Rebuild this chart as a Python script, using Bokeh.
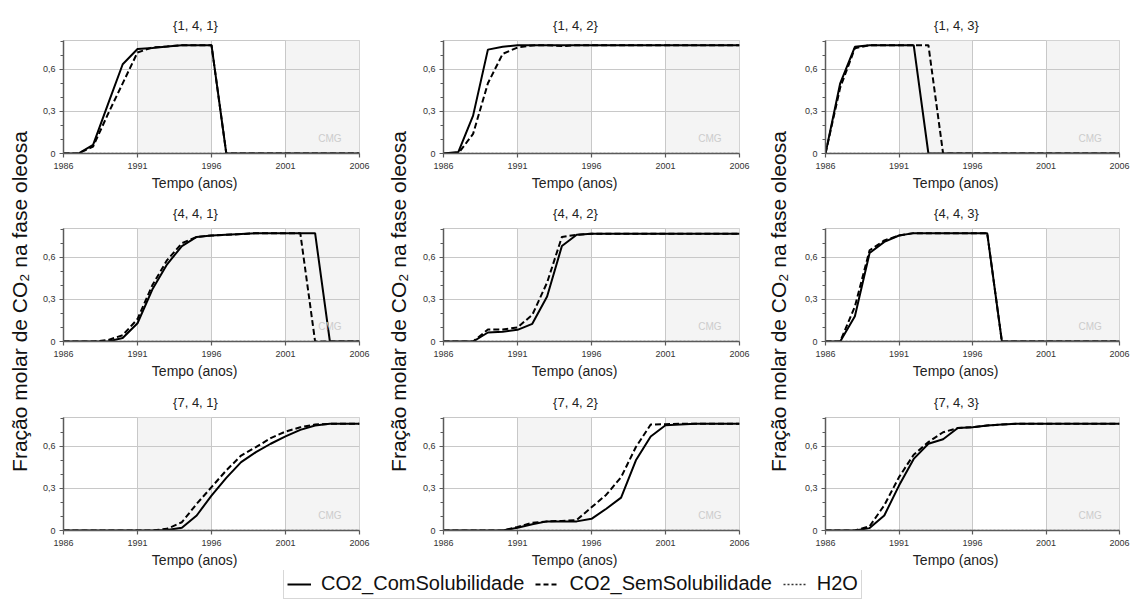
import math
from bokeh.plotting import figure
from bokeh.layouts import row, column
from bokeh.models import (FixedTicker, CustomJSTickFormatter, BoxAnnotation, Label,
                          Legend, LegendItem, Range1d, Title)
from bokeh.embed import file_html
from bokeh.resources import INLINE

# ---------------- data ----------------
years = [1986, 1987, 1988, 1989, 1990, 1991, 1992, 1993, 1994, 1995, 1996,
         1997, 1998, 1999, 2000, 2001, 2002, 2003, 2004, 2005, 2006]

x_ticks = [1986, 1991, 1996, 2001, 2006]
y_ticks = [0, 0.3, 0.6]
y_minor = [0.1, 0.2, 0.4, 0.5, 0.7, 0.8]

panel_titles = ["{1, 4, 1}", "{1, 4, 2}", "{1, 4, 3}",
                "{4, 4, 1}", "{4, 4, 2}", "{4, 4, 3}",
                "{7, 4, 1}", "{7, 4, 2}", "{7, 4, 3}"]

series_names = ["CO2_ComSolubilidade", "CO2_SemSolubilidade", "H2O"]
y_label = "Fração molar de CO₂ na fase oleosa"
x_label = "Tempo (anos)"

com_141 = [0, 0, 0.062, 0.35, 0.636, 0.744, 0.752, 0.762, 0.772, 0.772, 0.772,
           0, 0, 0, 0, 0, 0, 0, 0, 0, 0]
sem_141 = [0, 0, 0.05, 0.28, 0.50, 0.72, 0.755, 0.762, 0.772, 0.772, 0.772,
           0, 0, 0, 0, 0, 0, 0, 0, 0, 0]

com_142 = [0, 0.01, 0.27, 0.74, 0.76, 0.772, 0.772, 0.772, 0.772, 0.772, 0.772,
           0.772, 0.772, 0.772, 0.772, 0.772, 0.772, 0.772, 0.772, 0.772, 0.772]
sem_142 = [0, 0, 0.14, 0.50, 0.71, 0.755, 0.77, 0.772, 0.765, 0.772, 0.772,
           0.772, 0.772, 0.772, 0.772, 0.772, 0.772, 0.772, 0.772, 0.772, 0.772]

com_143 = [0, 0.50, 0.76, 0.772, 0.772, 0.772, 0.772, 0, 0, 0, 0,
           0, 0, 0, 0, 0, 0, 0, 0, 0, 0]
sem_143 = [0, 0.47, 0.75, 0.772, 0.772, 0.772, 0.772, 0.772, 0, 0, 0,
           0, 0, 0, 0, 0, 0, 0, 0, 0, 0]

com_441 = [0, 0, 0, 0, 0.025, 0.13, 0.37, 0.55, 0.68, 0.745, 0.755,
           0.76, 0.765, 0.772, 0.772, 0.772, 0.772, 0.772, 0, 0, 0]
sem_441 = [0, 0, 0, 0.01, 0.045, 0.16, 0.40, 0.58, 0.70, 0.745, 0.755,
           0.76, 0.765, 0.772, 0.772, 0.772, 0.772, 0, 0, 0, 0]

com_442 = [0, 0, 0, 0.064, 0.07, 0.083, 0.126, 0.32, 0.68, 0.76, 0.767,
           0.767, 0.767, 0.767, 0.767, 0.767, 0.767, 0.767, 0.767, 0.767, 0.767]
sem_442 = [0, 0, 0, 0.085, 0.085, 0.10, 0.19, 0.42, 0.745, 0.76, 0.767,
           0.767, 0.767, 0.767, 0.767, 0.767, 0.767, 0.767, 0.767, 0.767, 0.767]

com_443 = [0, 0, 0.18, 0.63, 0.71, 0.755, 0.772, 0.772, 0.772, 0.772, 0.772,
           0.772, 0, 0, 0, 0, 0, 0, 0, 0, 0]
sem_443 = [0, 0, 0.25, 0.65, 0.72, 0.755, 0.772, 0.772, 0.772, 0.772, 0.772,
           0.772, 0, 0, 0, 0, 0, 0, 0, 0, 0]

com_741 = [0, 0, 0, 0, 0, 0, 0, 0.003, 0.02, 0.107, 0.249,
           0.375, 0.487, 0.558, 0.618, 0.67, 0.717, 0.748, 0.76, 0.76, 0.76]
sem_741 = [0, 0, 0, 0, 0, 0, 0, 0.012, 0.059, 0.19, 0.309,
           0.428, 0.534, 0.594, 0.658, 0.705, 0.735, 0.755, 0.76, 0.76, 0.76]

com_742 = [0, 0, 0, 0, 0, 0.02, 0.045, 0.065, 0.065, 0.065, 0.083,
           0.155, 0.234, 0.50, 0.67, 0.75, 0.755, 0.76, 0.76, 0.76, 0.76]
sem_742 = [0, 0, 0, 0, 0, 0.025, 0.055, 0.065, 0.068, 0.075, 0.165,
           0.255, 0.38, 0.595, 0.755, 0.757, 0.76, 0.76, 0.76, 0.76, 0.76]

com_743 = [0, 0, 0, 0.017, 0.107, 0.32, 0.51, 0.618, 0.65, 0.73, 0.736,
           0.748, 0.755, 0.76, 0.76, 0.76, 0.76, 0.76, 0.76, 0.76, 0.76]
sem_743 = [0, 0, 0, 0.03, 0.18, 0.38, 0.54, 0.63, 0.70, 0.73, 0.736,
           0.748, 0.755, 0.76, 0.76, 0.76, 0.76, 0.76, 0.76, 0.76, 0.76]

h2o = [0, 0, 0, 0, 0, 0, 0, 0, 0, 0, 0,
       0, 0, 0, 0, 0, 0, 0, 0, 0, 0]

com_series = [com_141, com_142, com_143, com_441, com_442, com_443, com_741, com_742, com_743]
sem_series = [sem_141, sem_142, sem_143, sem_441, sem_442, sem_443, sem_741, sem_742, sem_743]

# ---------------- style ----------------
FONT = "Liberation Sans"
AXIS_C = "#5a5a5a"
GRID_C = "#c8c8c8"
TEXT_C = "#222222"
BAND_C = "#f4f4f4"
H2O_C = "#7a7a7a"

FRAME_H = 113
col_left = [28, 28, 30]
col_frame_w = [296, 296, 294]
col_right = [21, 21, 17]
row_top = [40, 33, 34]
row_bottom = [42, 42, 40]
Y_END = 0.805
TITLE_PX = 13
XLAB_PX = 14
TEXT_SHIFT = 16      # texts centred this many px left of the frame centre


def make_panel(idx):
    r, c = divmod(idx, 3)
    fw = col_frame_w[c]
    p = figure(frame_width=fw, frame_height=FRAME_H,
               min_border_left=col_left[c], min_border_right=col_right[c],
               min_border_top=row_top[r], min_border_bottom=row_bottom[r],
               x_range=Range1d(x_ticks[0], x_ticks[-1]), y_range=Range1d(0, Y_END),
               output_backend="svg", toolbar_location=None)
    p.background_fill_color = "white"
    p.border_fill_color = "white"
    p.outline_line_color = GRID_C

    for k in (1, 3):
        p.add_layout(BoxAnnotation(left=x_ticks[k], right=x_ticks[k + 1],
                                   fill_color=BAND_C, fill_alpha=1.0,
                                   line_color=None, level="image"))

    centre = fw / 2 - TEXT_SHIFT
    title_w = 3.448 * TITLE_PX
    p.add_layout(Title(text=panel_titles[idx], align="left",
                       offset=centre - title_w / 2, standoff=16,
                       text_font=FONT, text_font_size=f"{TITLE_PX}px",
                       text_font_style="normal", text_color=TEXT_C), "above")

    xlab_w = 6.235 * XLAB_PX
    p.add_layout(Title(text=x_label, align="left",
                       offset=centre - xlab_w / 2, standoff=2,
                       text_font=FONT, text_font_size=f"{XLAB_PX}px",
                       text_font_style="normal", text_color=TEXT_C), "below")

    p.xaxis.ticker = FixedTicker(ticks=x_ticks, minor_ticks=[])
    p.yaxis.ticker = FixedTicker(ticks=y_ticks, minor_ticks=y_minor)
    p.yaxis.formatter = CustomJSTickFormatter(
        code="return tick === 0 ? '0' : tick.toFixed(1).replace('.', ',');")

    for ax in (p.xaxis, p.yaxis):
        ax.axis_line_color = AXIS_C
        ax.axis_line_width = 1.5
        ax.major_tick_line_color = AXIS_C
        ax.major_tick_line_width = 1.2
        ax.minor_tick_line_color = AXIS_C
        ax.major_tick_in = 0
        ax.major_tick_out = 4
        ax.minor_tick_in = 0
        ax.minor_tick_out = 3
        ax.major_label_text_font = FONT
        ax.major_label_text_font_size = "9px"
        ax.major_label_text_color = "#333333"
    p.xaxis.major_label_standoff = 5
    p.yaxis.major_label_standoff = 4

    p.xgrid.grid_line_color = GRID_C
    p.ygrid.grid_line_color = GRID_C
    p.xgrid.grid_line_width = 1
    p.ygrid.grid_line_width = 1

    p.add_layout(Label(x=2004.0, y=0.11, text="CMG", text_align="center",
                       text_baseline="middle", text_color="#cccccc",
                       text_font=FONT, text_font_size="10px"))

    p.line(years, h2o, line_color=H2O_C, line_width=1.5, line_dash="2 2")
    p.line(years, sem_series[idx], line_color="black", line_width=2, line_dash="6 3")
    p.line(years, com_series[idx], line_color="black", line_width=2)
    return p


panels = [make_panel(i) for i in range(9)]

TOTAL_H = sum(row_top) + sum(row_bottom) + 3 * FRAME_H


def make_ylabel(width, xc):
    f = figure(width=width, height=TOTAL_H, x_range=Range1d(0, width),
               y_range=Range1d(0, TOTAL_H), min_border=0,
               x_axis_location=None, y_axis_location=None,
               output_backend="svg", toolbar_location=None)
    f.outline_line_color = None
    f.grid.visible = False
    f.background_fill_color = "white"
    f.border_fill_color = "white"
    f.add_layout(Label(x=xc, y=TOTAL_H - 301, text=y_label, angle=math.pi / 2,
                       text_align="center", text_baseline="middle",
                       text_font=FONT, text_font_size="21px", text_color="#111111"))
    return f


lab1 = make_ylabel(35, 19)
lab2 = make_ylabel(35, 18)
lab3 = make_ylabel(35, 18)

cols = [column(panels[c], panels[3 + c], panels[6 + c]) for c in range(3)]
top = row(lab1, cols[0], lab2, cols[1], lab3, cols[2])

# legend strip
TOTAL_W = 35 * 3 + sum(col_left) + sum(col_frame_w) + sum(col_right)
leg = figure(width=TOTAL_W, height=599 - TOTAL_H, x_range=Range1d(0, 1), y_range=Range1d(0, 1),
             min_border=0, x_axis_location=None, y_axis_location=None,
             output_backend="svg", toolbar_location=None)
leg.outline_line_color = None
leg.grid.visible = False
r_com = leg.line(years, com_series[0], line_color="black", line_width=2)
r_sem = leg.line(years, sem_series[0], line_color="black", line_width=2, line_dash="5 3")
r_h2o = leg.line(years, h2o, line_color="#333333", line_width=1.5, line_dash="2 2")
legend = Legend(items=[LegendItem(label=series_names[0], renderers=[r_com]),
                       LegendItem(label=series_names[1], renderers=[r_sem]),
                       LegendItem(label=series_names[2], renderers=[r_h2o])],
                orientation="horizontal", location=(283, 0))
legend.label_text_font = FONT
legend.label_text_font_size = "20px"
legend.label_text_color = "#111111"
legend.border_line_color = "#b0b0b0"
legend.border_line_width = 1
legend.background_fill_color = "white"
legend.padding = 3
legend.margin = 0
legend.spacing = 11
legend.glyph_width = 24
legend.label_standoff = 10
legend.label_height = 20
legend.glyph_height = 20
leg.add_layout(legend)

layout = column(top, leg)

open("out.html", "w").write(file_html(layout, INLINE))
